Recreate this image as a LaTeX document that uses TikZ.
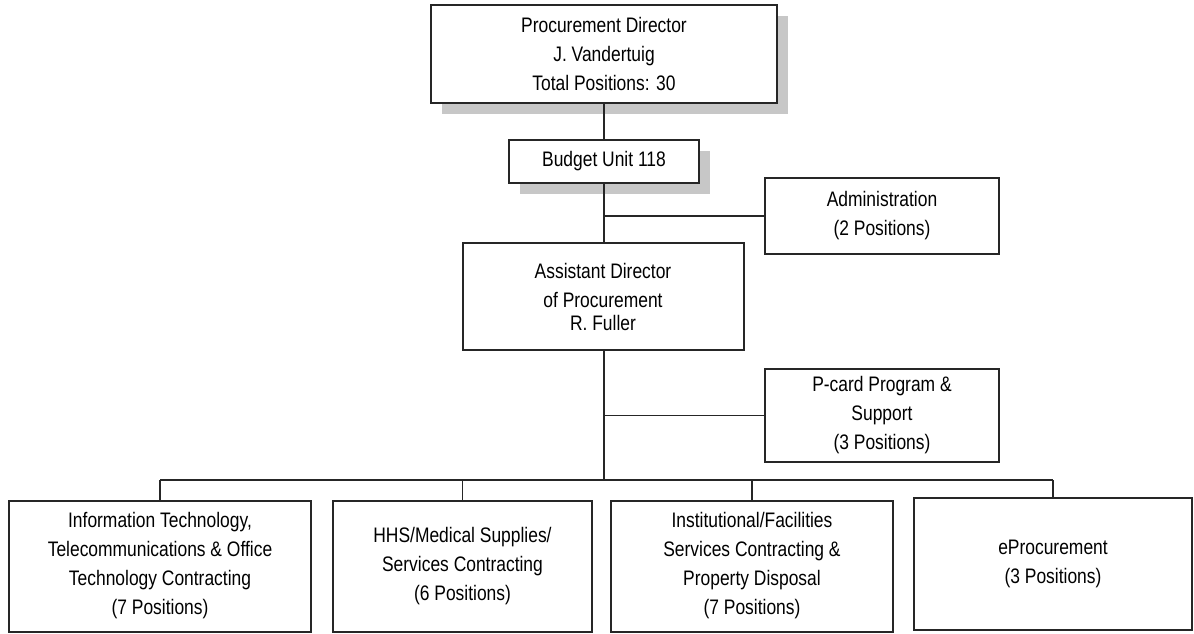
\documentclass[tikz,border=0pt]{standalone}
\usepackage{fontspec}
\setmainfont{Liberation Sans}[FakeStretch=0.83]
\usetikzlibrary{shadows}
\begin{document}
\begin{tikzpicture}[x=1pt,y=-1pt,
  unit/.style={draw=black!85, line width=2pt, fill=white, rectangle,
    align=center, inner sep=0pt, font=\fontsize{21}{29}\selectfont},
  shadowed/.style={drop shadow={shadow xshift=11pt, shadow yshift=-11pt,
    fill=black!22, opacity=1}},
  link/.style={draw=black!85, line width=1.8pt},
  trunk/.style={draw=black!85, line width=2.4pt}]
\useasboundingbox (0,0) rectangle (1194,633);

% top of the organisation
\node[unit, shadowed, minimum width=346pt, minimum height=98pt] (dir) at (604,54)
  {Procurement Director\\J. Vandertuig\\Total Positions: 30};
\node[unit, shadowed, minimum width=190pt, minimum height=43pt] (budget) at (604,161.5)
  {Budget Unit 118};
\node[unit, minimum width=234pt, minimum height=76pt] (admin) at (882,216)
  {Administration\\(2 Positions)};
\node[unit, minimum width=281pt, minimum height=107pt] (asst) at (603,296.5)
  {Assistant Director\\of Procurement\\[-6pt]R. Fuller};
\node[unit, minimum width=234pt, minimum height=93pt] (pcard) at (882,415.5)
  {P-card Program \&\\Support\\(3 Positions)};

% contracting units
\node[unit, minimum width=302pt, minimum height=131pt] (it) at (160,566)
  {Information Technology,\\Telecommunications \& Office\\Technology Contracting\\(7 Positions)};
\node[unit, minimum width=259pt, minimum height=131pt] (hhs) at (462.5,566)
  {HHS/Medical Supplies/\\Services Contracting\\(6 Positions)};
\node[unit, minimum width=282pt, minimum height=131pt] (inst) at (752,566)
  {Institutional/Facilities\\Services Contracting \&\\Property Disposal\\(7 Positions)};
\node[unit, minimum width=278pt, minimum height=132pt] (eproc) at (1053,564)
  {eProcurement\\(3 Positions)};

\coordinate (bus) at (604,480);

% reporting lines
\draw[link] (dir.south) -- (budget.north);
\draw[link] (budget.south) -- (budget.south |- asst.north);
\draw[link] (admin.west) -- (admin.west -| budget.south);
\draw[link] (pcard.west) -- (pcard.west -| bus);
\draw[trunk] (asst.south -| bus) -- (bus);
\draw[link] (it.north |- bus) -- (eproc.north |- bus);
\draw[link] (it.north) -- (it.north |- bus);
\draw[link] (hhs.north) -- (hhs.north |- bus);
\draw[link] (inst.north) -- (inst.north |- bus);
\draw[link] (eproc.north) -- (eproc.north |- bus);
\end{tikzpicture}
\end{document}
